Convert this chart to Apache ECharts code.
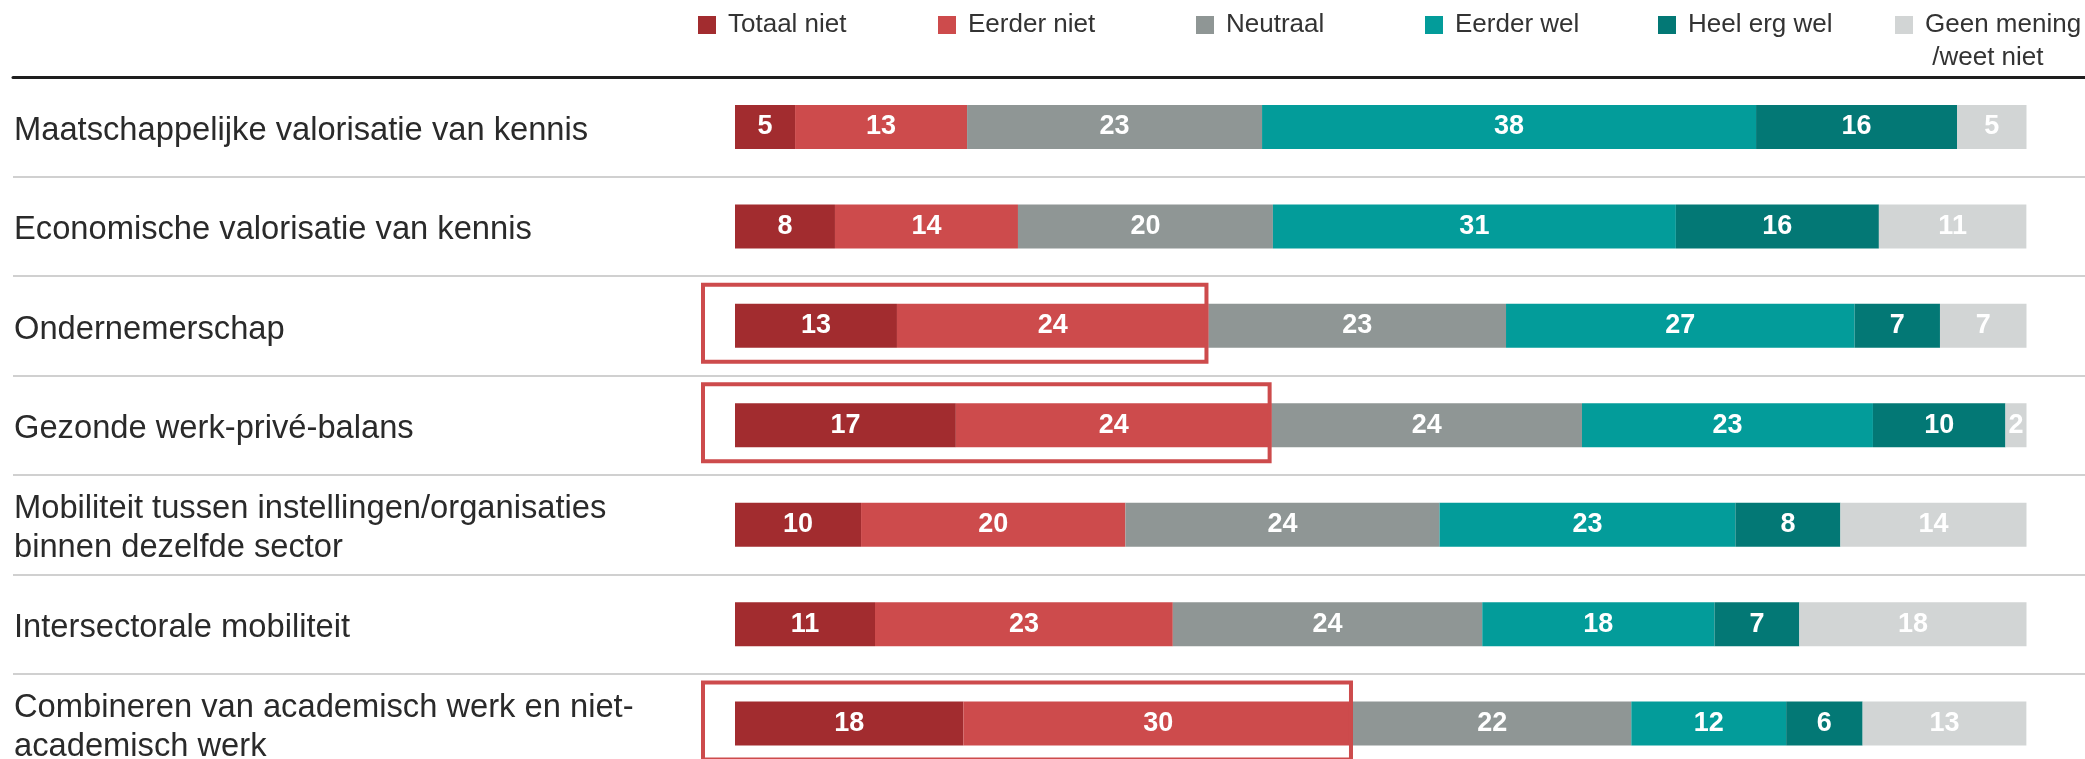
<!DOCTYPE html>
<html>
<head>
<meta charset="utf-8">
<script src="https://cdn.jsdelivr.net/npm/echarts@6/dist/echarts.min.js"></script>
<style>
html,body{margin:0;padding:0;background:#ffffff;overflow:hidden;}
#chart{width:2085px;height:820px;}
</style>
</head>
<body>
<div id="chart"></div>
<script>
// ---------- DATA ----------
const categories = [
  'Maatschappelijke valorisatie van kennis',
  'Economische valorisatie van kennis',
  'Ondernemerschap',
  'Gezonde werk-privé-balans',
  'Mobiliteit tussen instellingen/organisaties\nbinnen dezelfde sector',
  'Intersectorale mobiliteit',
  'Combineren van academisch werk en niet-\nacademisch werk'
];
const seriesNames = ['Totaal niet', 'Eerder niet', 'Neutraal', 'Eerder wel', 'Heel erg wel', 'Geen mening\n/weet niet'];

const totaalNiet  = [4.65, 7.74, 12.54, 17.1, 9.76, 10.84, 17.68];
const eerderNiet  = [13.32, 14.17, 24.12, 24.45, 20.47, 23.06, 30.17];
const neutraal    = [22.84, 19.74, 23.04, 24.03, 24.32, 23.96, 21.55];
const eerderWel   = [38.25, 31.2, 26.99, 22.53, 22.91, 17.98, 11.99];
const heelErgWel  = [15.56, 15.72, 6.61, 10.26, 8.13, 6.57, 5.92];
const geenMening  = [5.38, 11.42, 6.70, 1.63, 14.41, 17.59, 12.68];

const highlightRows = [2, 3, 6];

// ---------- STYLE / LAYOUT ----------
const colors = ['#a22c2f', '#cd4b4c', '#8f9695', '#039c9a', '#037875', '#d2d5d5'];
const legendX = [698, 938, 1196, 1425, 1658, 1895];
const FONT = "'Liberation Sans', Arial, Helvetica, sans-serif";
const GRID_TOP = 77.3, GRID_H = 696;
const LABEL_SHIFT = 4;
const BAR_LEFT = 735, BAR_RIGHT = 58.5;

const seriesValues = [totaalNiet, eerderNiet, neutraal, eerderWel, heelErgWel, geenMening];

const chart = echarts.init(document.getElementById('chart'), null, {renderer: 'canvas'});

const barSeries = seriesNames.map((name, i) => ({
  name: name,
  type: 'bar',
  stack: 'total',
  xAxisIndex: 0,
  yAxisIndex: 0,
  barWidth: 44,
  data: seriesValues[i],
  itemStyle: {color: colors[i]},
  label: {
    show: true,
    position: 'inside',
    color: '#ffffff',
    fontWeight: 'bold',
    fontSize: 27,
    fontFamily: FONT,
    formatter: p => String(Math.round(p.value))
  },
  emphasis: {disabled: true},
  silent: true
}));

const boxSeries = {
  type: 'custom',
  xAxisIndex: 0,
  yAxisIndex: 0,
  clip: false,
  silent: true,
  z: 5,
  encode: {x: 0, y: 1},
  data: highlightRows.map(r => [totaalNiet[r] + eerderNiet[r], r]),
  renderItem: function (params, api) {
    const end = api.coord([api.value(0), api.value(1)]);
    const start = api.coord([0, api.value(1)]);
    const lw = 4;
    const x0 = start[0] - 34;
    const top = end[1] - 43;
    return {
      type: 'rect',
      shape: {x: x0 + lw / 2, y: top + lw / 2, width: end[0] - x0 - lw, height: 81 - lw},
      style: {fill: 'none', stroke: '#cd4b4c', lineWidth: lw}
    };
  }
};

const legends = seriesNames.map((name, i) => {
  const last = i === seriesNames.length - 1;
  return {
    data: [name],
    left: legendX[i],
    top: last ? -24.5 : 12,
    padding: 0,
    icon: 'rect',
    itemWidth: 18,
    itemHeight: 18,
    selectedMode: false,
    formatter: last ? (n => ' \n' + n.replace('\n', '\n ')) : (n => n),
    textStyle: {
      fontSize: 26,
      color: '#333333',
      fontFamily: FONT,
      lineHeight: last ? 33 : undefined,
      padding: [0, 0, 0, 7]
    }
  };
});

const option = {
  animation: false,
  backgroundColor: '#ffffff',
  legend: legends,
  grid: [
    {left: BAR_LEFT, right: BAR_RIGHT, top: GRID_TOP, height: GRID_H, containLabel: false},
    {left: 13, right: 0, top: GRID_TOP, height: GRID_H, containLabel: false},
    {left: BAR_LEFT, right: BAR_RIGHT, top: GRID_TOP + LABEL_SHIFT, height: GRID_H, containLabel: false}
  ],
  xAxis: [
    {type: 'value', gridIndex: 0, min: 0, max: 100, show: false},
    {
      type: 'value', gridIndex: 1, min: 0, max: 1, position: 'top',
      axisLine: {show: true, lineStyle: {color: '#1e1e1e', width: 3}},
      axisLabel: {show: false}, axisTick: {show: false}, splitLine: {show: false}
    },
    {type: 'value', gridIndex: 2, min: 0, max: 100, show: false}
  ],
  yAxis: [
    {
      type: 'category', gridIndex: 0, data: categories, inverse: true,
      axisLine: {show: false}, axisTick: {show: false}, splitLine: {show: false},
      axisLabel: {show: false}
    },
    {
      type: 'category', gridIndex: 1, data: categories, inverse: true,
      axisLine: {show: false}, axisTick: {show: false, interval: 0},
      axisLabel: {show: false, interval: 0},
      splitLine: {show: true, interval: 0, lineStyle: {color: '#d0d0d0', width: 2}}
    },
    {
      type: 'category', gridIndex: 2, data: categories, inverse: true,
      axisLine: {show: false}, axisTick: {show: false}, splitLine: {show: false},
      axisLabel: {
        interval: 0, align: 'left', margin: BAR_LEFT - 14,
        fontSize: 32.7, color: '#2a2a2a', fontFamily: FONT, lineHeight: 39
      }
    }
  ],
  series: barSeries.concat([boxSeries])
};

chart.setOption(option);
</script>
</body>
</html>
